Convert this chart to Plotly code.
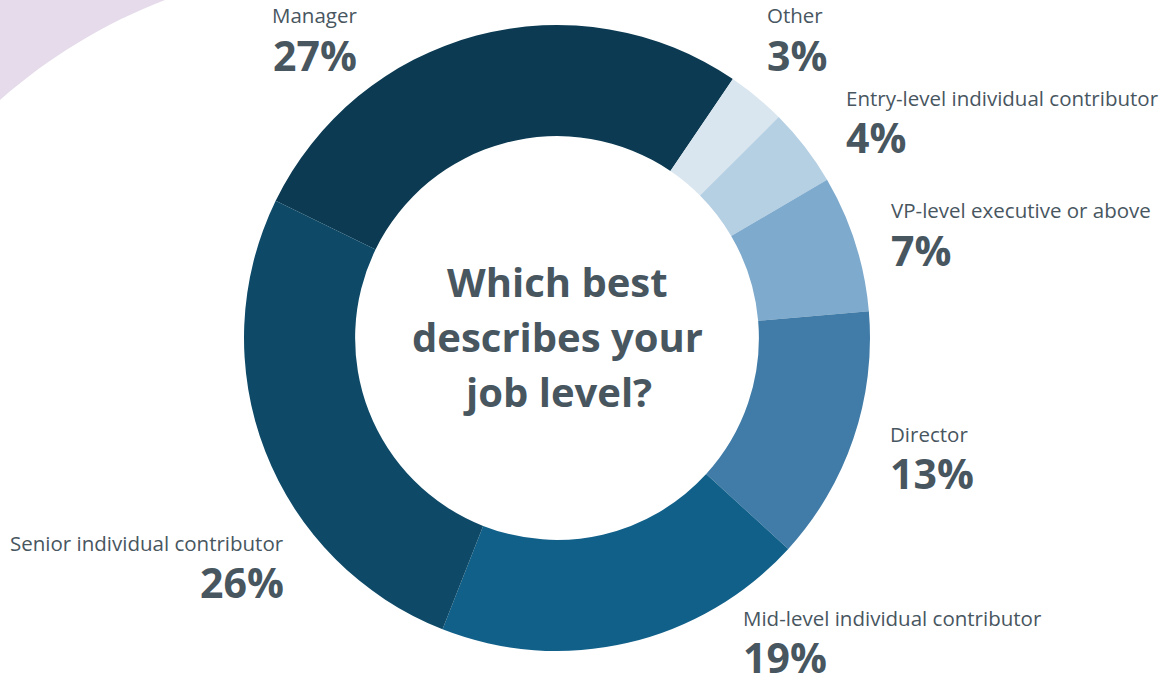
import plotly.graph_objects as go

# Survey answers: job level of respondents (percent)
categories = [
    "Manager",
    "Other",
    "Entry-level individual contributor",
    "VP-level executive or above",
    "Director",
    "Mid-level individual contributor",
    "Senior individual contributor",
]
shares = [27, 3, 4, 7, 13, 19, 26]
slice_colors = ["#0b3a52", "#dae6ef", "#b5cfe3", "#7eaacd", "#417ca8", "#11608a", "#0e4a68"]

question_lines = ["Which best", "describes your", "job level?"]

W, H = 1166, 673
TEXT = "#48565f"
FONT = "Open Sans"

# label anchor (pixel x, alignment, name y, percent y) per category
label_layout = {
    "Manager": (358, "right", 15, 55),
    "Other": (766, "left", 15, 55),
    "Entry-level individual contributor": (845, "left", 98, 137),
    "VP-level executive or above": (890, "left", 210, 250),
    "Director": (889, "left", 434, 473),
    "Mid-level individual contributor": (742, "left", 618, 657),
    "Senior individual contributor": (285, "right", 543, 582),
}


def px(x):
    return x / W


def py(y):
    return 1 - y / H


cx, cy, r = 557, 338, 313

fig = go.Figure(
    go.Pie(
        labels=categories,
        values=shares,
        sort=False,
        direction="clockwise",
        rotation=296,
        hole=0.645,
        textinfo="none",
        marker=dict(colors=slice_colors, line=dict(width=0)),
        domain=dict(x=[px(cx - r), px(cx + r)], y=[py(cy + r), py(cy - r)]),
        showlegend=False,
        hovertemplate="%{label}: %{value}%<extra></extra>",
    )
)

annotations = []
# centre question, one annotation per line for a looser line height
for i, line in enumerate(question_lines):
    annotations.append(dict(
        text=f"<b>{line}</b>",
        x=px(cx), y=py(281 + 55 * i), xref="paper", yref="paper",
        xanchor="center", yanchor="middle", showarrow=False,
        font=dict(family=FONT, size=40, color=TEXT),
    ))

for name, val in zip(categories, shares):
    ax, anchor, ny, vy = label_layout[name]
    annotations.append(dict(
        text=name, x=px(ax), y=py(ny), xref="paper", yref="paper",
        xanchor=anchor, yanchor="middle", showarrow=False, borderpad=0,
        font=dict(family=FONT, size=20.5, color=TEXT),
    ))
    annotations.append(dict(
        text=f"<b>{val}%</b>", x=px(ax), y=py(vy), xref="paper", yref="paper",
        xanchor=anchor, yanchor="middle", showarrow=False, borderpad=0,
        font=dict(family=FONT, size=41, color=TEXT),
    ))

# lavender backdrop curve in the top-left corner
corner_path = (
    f"M {px(-5)},{py(-5)} L {px(170)},{py(-5)} L {px(165)},{py(0)} "
    f"C {px(104.7)},{py(23.1)} {px(48.5)},{py(57.3)} {px(0)},{py(100)} "
    f"L {px(-5)},{py(104)} Z"
)

fig.update_layout(
    width=W, height=H,
    margin=dict(l=0, r=0, t=0, b=0),
    paper_bgcolor="white",
    plot_bgcolor="white",
    annotations=annotations,
    shapes=[dict(type="path", path=corner_path, xref="paper", yref="paper",
                 fillcolor="#e5dbeb", line=dict(width=0), layer="below")],
)

fig.write_html("out.html", config={"displayModeBar": False})
